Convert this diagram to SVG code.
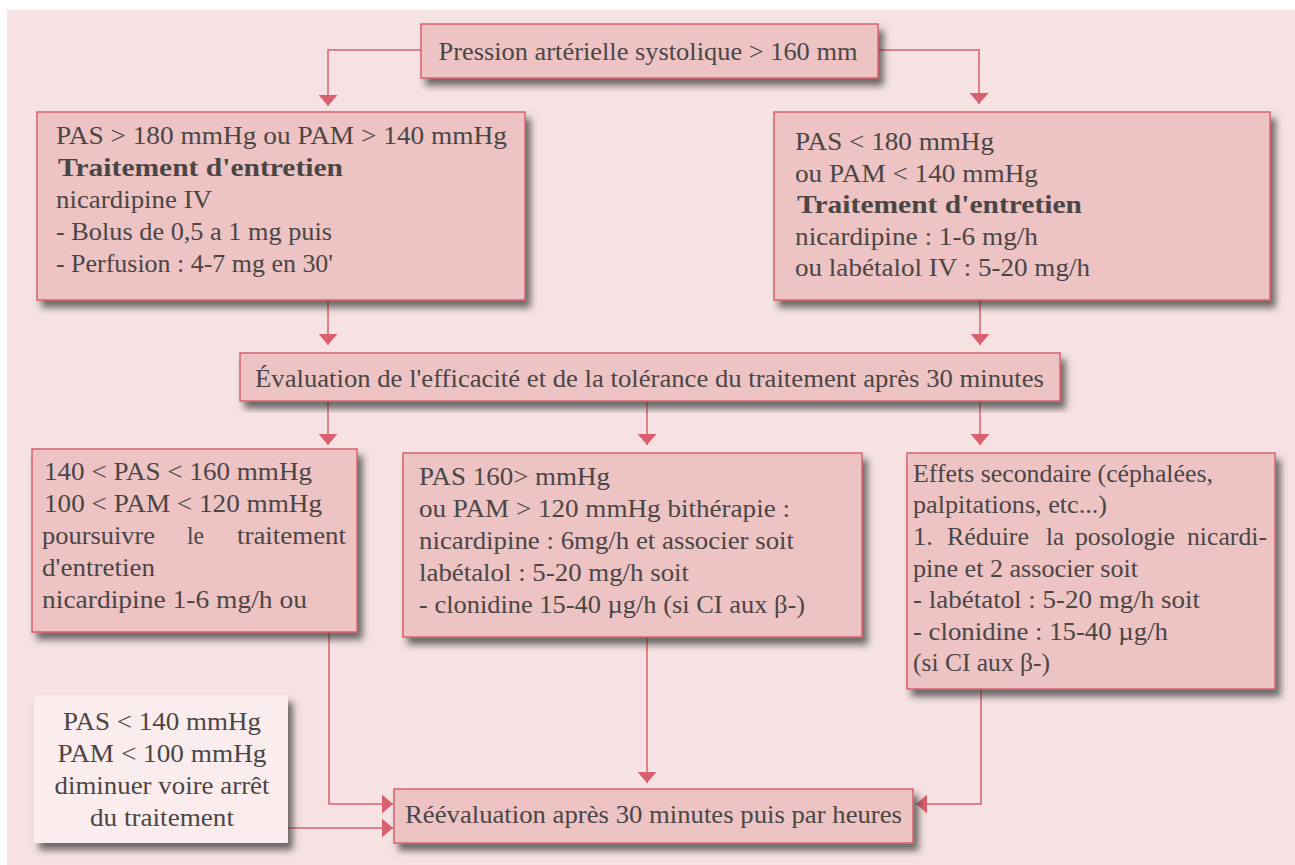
<svg xmlns="http://www.w3.org/2000/svg" width="1295" height="865" viewBox="0 0 1295 865">
<style>
.box{fill:#edc3c3;stroke:#d9606e;stroke-width:1.5;filter:url(#sh)}
.wbox{fill:#fbedee;stroke:none;filter:url(#sh)}
text{font-family:'Liberation Serif','Times New Roman',Times,'DejaVu Serif',serif;font-size:26px;fill:#4a4646}
.b{font-weight:bold}
.c{text-anchor:middle}
.e{text-anchor:end}
.con{fill:none;stroke:#d9606e;stroke-width:1.5}
</style>
<defs>
<filter id="sh" x="-10%" y="-10%" width="125%" height="135%">
<feDropShadow dx="5" dy="7" stdDeviation="3.5" flood-color="#333333" flood-opacity="0.7"/>
</filter>
<marker id="ah" markerUnits="userSpaceOnUse" markerWidth="11" markerHeight="19" viewBox="0 0 11 19" refX="11" refY="9.5" orient="auto">
<path d="M0,0 L11,9.5 L0,19 z" fill="#d9606e"/>
</marker>
</defs>
<rect x="7" y="10" width="1288" height="855" fill="#f6e2e2"/>

<g id="connectors">
<path class="con" d="M421,50 H328 V106" marker-end="url(#ah)"/>
<path class="con" d="M878,50 H979 V104" marker-end="url(#ah)"/>
<path class="con" d="M328,300 V345" marker-end="url(#ah)"/>
<path class="con" d="M980,300 V345" marker-end="url(#ah)"/>
<path class="con" d="M328,401 V445" marker-end="url(#ah)"/>
<path class="con" d="M647,401 V445" marker-end="url(#ah)"/>
<path class="con" d="M980,401 V445" marker-end="url(#ah)"/>
<path class="con" d="M329,632 V804 H393" marker-end="url(#ah)"/>
<path class="con" d="M647,637 V783" marker-end="url(#ah)"/>
<path class="con" d="M981,689 V804 H916" marker-end="url(#ah)"/>
<path class="con" d="M288,828 H393" marker-end="url(#ah)"/>
</g>

<g id="n-top">
<rect class="box" x="421" y="24" width="457" height="54"/>
<text class="c" x="648" y="60" textLength="419" lengthAdjust="spacingAndGlyphs">Pression artérielle systolique &gt; 160 mm</text>
</g>

<g id="n-left1">
<rect class="box" x="37" y="112" width="488" height="188"/>
<text x="56" y="144" textLength="451" lengthAdjust="spacingAndGlyphs">PAS &gt; 180 mmHg ou PAM &gt; 140 mmHg</text>
<text class="b" x="58" y="176" textLength="285" lengthAdjust="spacingAndGlyphs">Traitement d'entretien</text>
<text x="56" y="208" textLength="156" lengthAdjust="spacingAndGlyphs">nicardipine IV</text>
<text x="56" y="240" textLength="276" lengthAdjust="spacingAndGlyphs">- Bolus de 0,5 a 1 mg puis</text>
<text x="56" y="272" textLength="277" lengthAdjust="spacingAndGlyphs">- Perfusion : 4-7 mg en 30'</text>
</g>

<g id="n-right1">
<rect class="box" x="774" y="112" width="496" height="188"/>
<text x="795" y="150" textLength="199" lengthAdjust="spacingAndGlyphs">PAS &lt; 180 mmHg</text>
<text x="795" y="182" textLength="243" lengthAdjust="spacingAndGlyphs">ou PAM &lt; 140 mmHg</text>
<text class="b" x="797" y="213" textLength="285" lengthAdjust="spacingAndGlyphs">Traitement d'entretien</text>
<text x="795" y="245" textLength="243" lengthAdjust="spacingAndGlyphs">nicardipine : 1-6 mg/h</text>
<text x="795" y="276" textLength="295" lengthAdjust="spacingAndGlyphs">ou labétalol IV : 5-20 mg/h</text>
</g>

<g id="n-eval">
<rect class="box" x="240" y="353" width="820" height="48"/>
<text x="255" y="387" textLength="789" lengthAdjust="spacingAndGlyphs">Évaluation de l'efficacité et de la tolérance du traitement après 30 minutes</text>
</g>

<g id="n-b1">
<rect class="box" x="32" y="449" width="325" height="183"/>
<text x="44" y="480" textLength="268" lengthAdjust="spacingAndGlyphs">140 &lt; PAS &lt; 160 mmHg</text>
<text x="44" y="512" textLength="278" lengthAdjust="spacingAndGlyphs">100 &lt; PAM &lt; 120 mmHg</text>
<text x="42" y="544" textLength="113" lengthAdjust="spacingAndGlyphs">poursuivre</text>
<text x="187" y="544" textLength="17" lengthAdjust="spacingAndGlyphs">le</text>
<text class="e" x="346" y="544" textLength="109" lengthAdjust="spacingAndGlyphs">traitement</text>
<text x="42" y="576" textLength="113" lengthAdjust="spacingAndGlyphs">d'entretien</text>
<text x="42" y="608" textLength="265" lengthAdjust="spacingAndGlyphs">nicardipine 1-6 mg/h ou</text>
</g>

<g id="n-b2">
<rect class="box" x="403" y="453" width="459" height="184"/>
<text x="419" y="485" textLength="191" lengthAdjust="spacingAndGlyphs">PAS 160&gt; mmHg</text>
<text x="419" y="517" textLength="371" lengthAdjust="spacingAndGlyphs">ou PAM &gt; 120 mmHg bithérapie :</text>
<text x="419" y="549" textLength="375" lengthAdjust="spacingAndGlyphs">nicardipine : 6mg/h et associer soit</text>
<text x="419" y="581" textLength="270" lengthAdjust="spacingAndGlyphs">labétalol : 5-20 mg/h soit</text>
<text x="419" y="613" textLength="386" lengthAdjust="spacingAndGlyphs">- clonidine 15-40 µg/h (si CI aux β-)</text>
</g>

<g id="n-b3">
<rect class="box" x="907" y="453" width="368" height="236"/>
<text x="913" y="482" textLength="300" lengthAdjust="spacingAndGlyphs">Effets secondaire (céphalées,</text>
<text x="913" y="513" textLength="194" lengthAdjust="spacingAndGlyphs">palpitations, etc...)</text>
<text x="913" y="545" textLength="20" lengthAdjust="spacingAndGlyphs">1.</text>
<text x="947" y="545" textLength="82" lengthAdjust="spacingAndGlyphs">Réduire</text>
<text x="1046" y="545" textLength="18" lengthAdjust="spacingAndGlyphs">la</text>
<text x="1075" y="545" textLength="100" lengthAdjust="spacingAndGlyphs">posologie</text>
<text class="e" x="1267" y="545" textLength="80" lengthAdjust="spacingAndGlyphs">nicardi-</text>
<text x="913" y="577" textLength="225" lengthAdjust="spacingAndGlyphs">pine et 2 associer soit</text>
<text x="913" y="608" textLength="287" lengthAdjust="spacingAndGlyphs">- labétatol : 5-20 mg/h soit</text>
<text x="913" y="640" textLength="255" lengthAdjust="spacingAndGlyphs">- clonidine : 15-40 µg/h</text>
<text x="913" y="671" textLength="137" lengthAdjust="spacingAndGlyphs">(si CI aux β-)</text>
</g>

<g id="n-low">
<rect class="wbox" x="34" y="695" width="254" height="148"/>
<text class="c" x="162" y="730" textLength="198" lengthAdjust="spacingAndGlyphs">PAS &lt; 140 mmHg</text>
<text class="c" x="162" y="762" textLength="209" lengthAdjust="spacingAndGlyphs">PAM &lt; 100 mmHg</text>
<text class="c" x="162" y="794" textLength="215" lengthAdjust="spacingAndGlyphs">diminuer voire arrêt</text>
<text class="c" x="162" y="826" textLength="144" lengthAdjust="spacingAndGlyphs">du traitement</text>
</g>

<g id="n-reeval">
<rect class="box" x="394" y="789" width="519" height="54"/>
<text x="405" y="823" textLength="497" lengthAdjust="spacingAndGlyphs">Réévaluation après 30 minutes puis par heures</text>
</g>
</svg>
